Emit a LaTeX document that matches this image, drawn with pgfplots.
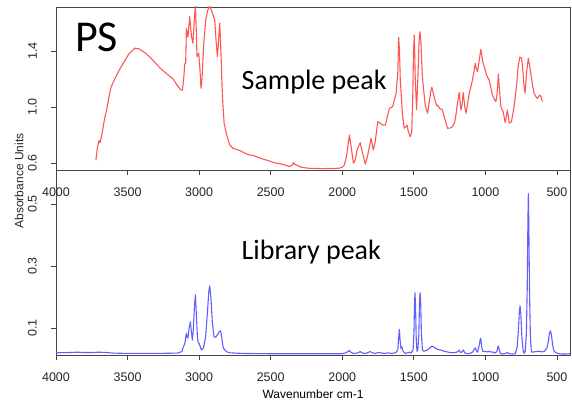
\documentclass[border=0pt]{standalone}
\usepackage{pgfplots}
\pgfplotsset{compat=1.18}
\usepackage{fontspec}
\setmainfont{Liberation Sans}
\newfontfamily\calibri{Carlito}
\definecolor{specred}{RGB}{255,85,85}
\definecolor{specblue}{RGB}{95,95,255}
\definecolor{axgray}{RGB}{70,70,70}
\pgfplotsset{
  specaxis/.style={
    scale only axis,
    width=514pt,
    x dir=reverse,
    xmin=409, xmax=4000,
    axis line style={axgray, line width=0.8pt},
    tick style={axgray, line width=0.8pt},
    tick align=outside,
    major tick length=5pt,
    xtick={500,1000,1500,2000,2500,3000,3500,4000},
    xticklabels={500,1000,1500,2000,2500,3000,3500,4000},
    xtick pos=bottom, ytick pos=left,
    tick label style={font=\fontsize{12.5}{14}\selectfont, text=black!85},
    xticklabel style={anchor=north, inner sep=0pt, yshift=-13pt},
    yticklabel style={xshift=-14pt, rotate=90, anchor=south, inner sep=0pt},
    every axis plot/.append style={line width=1.1pt, line join=round},
  }
}
\begin{document}
\begin{tikzpicture}[x=1pt,y=1pt]
\useasboundingbox (0,0) rectangle (572,406);
% bottom panel
\begin{axis}[specaxis,
  at={(56pt,51pt)}, anchor=south west,
  height=185pt,
  ymin=0.0129, ymax=0.6097,
  ytick={0.1,0.3,0.5}, yticklabels={0.1,0.3,0.5},
  xlabel={Wavenumber cm-1},
  xlabel style={font=\fontsize{12}{14}\selectfont, anchor=north, at={(axis description cs:0.5,0)}, yshift=-31pt},
]
\addplot[specblue] coordinates {
(4000,0.020) (3900,0.021) (3850,0.022) (3800,0.021) (3750,0.021) (3700,0.022) (3650,0.021) (3600,0.019) (3500,0.018) (3300,0.018) (3150,0.019)
(3120,0.024) (3112,0.037) (3100,0.05) (3092,0.075) (3089,0.083) (3085,0.07) (3078,0.068) (3070,0.10) (3061,0.120) (3055,0.09) (3047,0.061)
(3040,0.10) (3033,0.17) (3026,0.207) (3020,0.15) (3012,0.07) (3008,0.056) (3000,0.05) (2984,0.029) (2970,0.035) (2955,0.07) (2942,0.15)
(2932,0.22) (2926,0.236) (2918,0.20) (2908,0.12) (2896,0.072) (2885,0.07) (2872,0.078) (2858,0.089) (2850,0.091) (2842,0.07) (2835,0.045)
(2829,0.034) (2810,0.024) (2787,0.020) (2700,0.018) (2500,0.017) (2200,0.017) (2000,0.017) (1975,0.02) (1960,0.024) (1950,0.027) (1940,0.022)
(1925,0.018) (1900,0.019) (1885,0.021) (1875,0.024) (1865,0.021) (1850,0.018) (1830,0.019) (1815,0.022) (1803,0.024) (1790,0.02) (1770,0.018)
(1755,0.02) (1741,0.021) (1725,0.019) (1700,0.018) (1680,0.02) (1660,0.018) (1640,0.019) (1625,0.021) (1612,0.03) (1606,0.07) (1601,0.096)
(1596,0.06) (1590,0.034) (1584,0.04) (1575,0.025) (1560,0.018) (1545,0.02) (1530,0.022) (1520,0.019) (1505,0.03) (1499,0.09) (1495,0.18)
(1492,0.214) (1488,0.17) (1483,0.06) (1478,0.025) (1472,0.03) (1465,0.08) (1460,0.19) (1456,0.214) (1452,0.18) (1447,0.08) (1440,0.03)
(1430,0.025) (1410,0.028) (1390,0.035) (1374,0.042) (1360,0.038) (1345,0.034) (1334,0.031) (1310,0.029) (1287,0.025) (1260,0.022) (1230,0.02)
(1200,0.022) (1190,0.025) (1183,0.029) (1175,0.021) (1165,0.022) (1153,0.029) (1145,0.02) (1130,0.017) (1110,0.018) (1090,0.022) (1080,0.03)
(1071,0.036) (1062,0.026) (1055,0.022) (1045,0.04) (1036,0.064) (1032,0.067) (1027,0.04) (1018,0.025) (1000,0.024) (985,0.023) (974,0.025)
(960,0.022) (950,0.023) (935,0.019) (920,0.024) (912,0.04) (909,0.042) (905,0.032) (895,0.018) (880,0.016) (860,0.018) (846,0.021)
(835,0.017) (810,0.016) (790,0.018) (778,0.04) (770,0.09) (763,0.15) (758,0.171) (753,0.15) (745,0.07) (737,0.03) (730,0.018)
(722,0.025) (714,0.08) (708,0.22) (703,0.45) (700,0.534) (697,0.45) (692,0.22) (686,0.08) (680,0.03) (676,0.022) (660,0.023)
(640,0.024) (623,0.025) (605,0.023) (590,0.024) (570,0.035) (560,0.058) (552,0.085) (545,0.091) (538,0.075) (530,0.045) (522,0.027)
(513,0.022) (495,0.018) (470,0.016) (440,0.016) (409,0.017)
};
\end{axis}
% top panel
\begin{axis}[specaxis,
  at={(56pt,236pt)}, anchor=south west,
  height=163pt,
  ymin=0.55, ymax=1.714,
  ytick={0.6,1.0,1.4}, yticklabels={0.6,1.0,1.4},
]
\addplot[specred] coordinates {
(3721,0.62) (3712,0.70) (3700,0.76) (3692,0.745) (3680,0.80) (3660,0.92) (3646,0.98) (3630,1.07) (3616,1.14) (3590,1.20) (3554,1.27)
(3520,1.33) (3490,1.38) (3449,1.42) (3420,1.415) (3368,1.38) (3320,1.33) (3275,1.28) (3230,1.24) (3182,1.20) (3150,1.15) (3125,1.12)
(3117,1.12) (3108,1.20) (3100,1.31) (3094,1.31) (3089,1.56) (3078,1.50) (3066,1.645) (3053,1.50) (3043,1.455) (3035,1.60) (3026,1.73)
(3020,1.55) (3015,1.36) (3003,1.384) (2995,1.28) (2987,1.134) (2980,1.20) (2968,1.45) (2954,1.62) (2940,1.69) (2926,1.72) (2910,1.68)
(2891,1.62) (2880,1.45) (2872,1.36) (2864,1.48) (2856,1.598) (2848,1.40) (2840,1.15) (2833,1.00) (2825,0.88) (2820,0.86) (2810,0.81)
(2787,0.73) (2764,0.705) (2717,0.69) (2680,0.67) (2647,0.657) (2624,0.655) (2600,0.645) (2560,0.63) (2508,0.614) (2470,0.60) (2438,0.596)
(2400,0.585) (2368,0.574) (2350,0.585) (2340,0.602) (2332,0.59) (2322,0.586) (2310,0.58) (2280,0.568) (2229,0.562) (2150,0.56) (2060,0.561)
(2020,0.563) (2000,0.57) (1985,0.586) (1970,0.65) (1950,0.80) (1936,0.70) (1922,0.598) (1910,0.62) (1895,0.70) (1875,0.745) (1860,0.68)
(1840,0.593) (1825,0.64) (1810,0.72) (1799,0.776) (1783,0.693) (1770,0.75) (1752,0.895) (1741,0.888) (1730,0.88) (1715,0.87) (1699,0.871)
(1685,0.93) (1671,0.99) (1648,1.002) (1636,1.05) (1624,1.098) (1612,1.25) (1606,1.498) (1600,1.40) (1595,1.20) (1590,1.121) (1580,0.95)
(1567,0.848) (1555,0.86) (1547,0.87) (1540,0.83) (1525,0.788) (1515,0.82) (1508,1.05) (1502,1.40) (1497,1.514) (1490,1.20) (1481,0.979)
(1472,1.2) (1463,1.48) (1457,1.538) (1450,1.45) (1442,1.25) (1434,1.145) (1420,1.01) (1404,0.955) (1390,1.05) (1380,1.12) (1374,1.141)
(1362,1.09) (1350,1.04) (1340,1.01) (1334,1.014) (1320,0.99) (1300,0.979) (1285,0.92) (1265,0.848) (1245,0.85) (1230,0.859) (1215,0.89)
(1206,0.943) (1195,1.03) (1183,1.102) (1171,0.979) (1163,1.02) (1155,1.102) (1145,1.01) (1136,0.955) (1125,1.02) (1113,1.098) (1095,1.17)
(1080,1.25) (1071,1.312) (1063,1.27) (1055,1.252) (1045,1.32) (1032,1.412) (1024,1.36) (1016,1.312) (1005,1.28) (993,1.229) (974,1.193)
(962,1.14) (951,1.086) (940,1.06) (927,1.038) (918,1.10) (909,1.236) (902,1.12) (892,1.002) (876,0.966) (862,0.888) (846,0.979)
(840,0.93) (834,0.884) (818,0.895) (800,1.00) (783,1.145) (772,1.28) (760,1.355) (748,1.35) (740,1.28) (730,1.15) (723,1.098)
(712,1.25) (700,1.348) (692,1.30) (683,1.241) (670,1.15) (660,1.098) (645,1.07) (637,1.062) (620,1.086) (610,1.07) (602,1.038)
};
\end{axis}
% annotations
\node[anchor=base west, inner sep=0pt, font=\calibri\fontsize{44}{48}\selectfont] at (75,354) {PS};
\node[anchor=base west, inner sep=0pt, font=\calibri\fontsize{28}{32}\selectfont] at (241.5,316) {Sample peak};
\node[anchor=base west, inner sep=0pt, font=\calibri\fontsize{28}{32}\selectfont] at (241.5,146) {Library peak};
\node[rotate=90, inner sep=0pt, font=\fontsize{12}{14}\selectfont, text=black!85] at (19,225) {Absorbance Units};
\end{tikzpicture}
\end{document}
